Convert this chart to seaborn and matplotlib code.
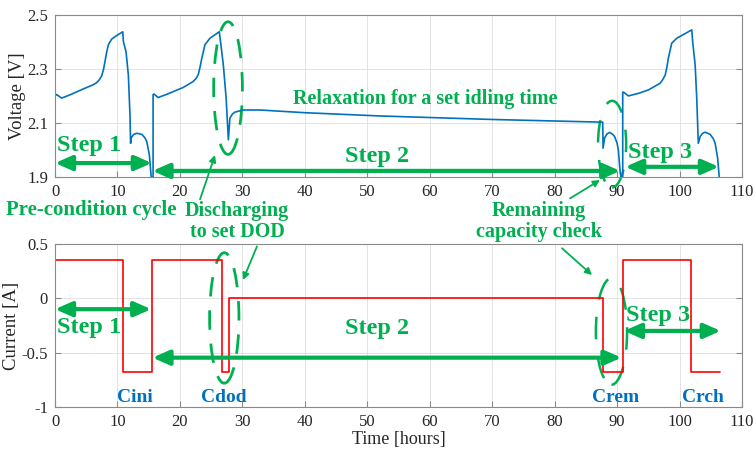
import matplotlib
matplotlib.use("Agg")
import matplotlib.pyplot as plt
from matplotlib.patches import Ellipse, FancyArrowPatch
import seaborn as sns
import pandas as pd

# ---------------- data ----------------
volt_time = [0, 0, 0.25, 1.07, 2.5, 4.54, 6.0, 6.67, 7.1, 7.47, 7.75, 8.0, 8.25, 8.54, 9.07,
             9.87, 10.84, 10.95, 11.37, 11.74, 12.0, 12.1, 12.2, 12.6, 13.1, 13.9, 14.4, 14.7,
             15.1, 15.4, 15.7,
             15.7, 15.85, 16.5, 18.0, 20.5, 22.1, 22.6, 22.95, 23.25, 23.5, 24.0, 24.8, 26.3,
             26.5, 26.95, 27.4, 27.75, 28.0, 28.4, 28.8, 30.1, 32.8, 40.0, 52.0, 70.0, 87.7,
             87.75, 88.0, 88.4, 88.8, 89.3, 89.6, 90.0, 90.2, 90.5, 90.65, 90.9,
             90.9, 91.1, 91.8, 93.5, 95.0, 96.9, 97.3, 97.7, 98.0, 98.2, 98.75, 99.55, 101.95,
             102.1, 102.5, 102.75, 103.0, 103.3, 103.7, 104.1, 104.9, 105.4, 105.7, 106.1,
             106.35]
volt_value = [1.90, 2.20, 2.205, 2.192, 2.205, 2.226, 2.24, 2.249, 2.26, 2.274, 2.297, 2.327,
              2.36, 2.389, 2.41, 2.423, 2.437, 2.40, 2.363, 2.277, 2.13, 2.025, 2.045, 2.058,
              2.062, 2.058, 2.045, 2.031, 1.982, 1.90, 1.90,
              2.205, 2.207, 2.194, 2.207, 2.231, 2.253, 2.265, 2.28, 2.31, 2.339, 2.389, 2.413,
              2.437, 2.40, 2.314, 2.191, 2.038, 2.118, 2.133, 2.14, 2.148, 2.148, 2.138, 2.126,
              2.113, 2.103,
              2.007, 2.045, 2.06, 2.065, 2.058, 2.05, 2.025, 2.0, 1.915, 1.90, 1.90,
              2.214, 2.213, 2.20, 2.21, 2.222, 2.247, 2.26, 2.277, 2.31, 2.339, 2.395, 2.413,
              2.444, 2.40, 2.314, 2.191, 2.025, 2.05, 2.062, 2.066, 2.058, 2.042, 2.025, 1.97,
              1.90]

cur_time = [0, 0, 10.95, 10.95, 15.6, 15.6, 26.7, 26.7, 27.8, 27.8, 87.7, 87.7, 90.9, 90.9,
            101.9, 101.9, 106.4]
cur_value = [-0.68, 0.35, 0.35, -0.68, -0.68, 0.35, 0.35, -0.68, -0.68, 0.0, 0.0, -0.68, -0.68,
             0.35, 0.35, -0.68, -0.68]

x_ticks = [0, 10, 20, 30, 40, 50, 60, 70, 80, 90, 100, 110]
v_ticks = [1.9, 2.1, 2.3, 2.5]
c_ticks = [-1, -0.5, 0, 0.5]
c_tick_labels = ["-1", "-0.5", "0", "0.5"]

labels_cap = ["Cini", "Cdod", "Crem", "Crch"]
labels_cap_t = [12.8, 27.1, 89.8, 103.8]

volt_df = pd.DataFrame({"t": volt_time, "v": volt_value})
cur_df = pd.DataFrame({"t": cur_time, "i": cur_value})

# ---------------- style ----------------
sns.set_style("whitegrid", {"grid.color": "#e3e3e3", "axes.edgecolor": "#8a8a8a",
                            "xtick.direction": "in", "ytick.direction": "in",
                            "xtick.bottom": True, "ytick.left": True})
plt.rcParams["font.family"] = ["Liberation Serif", "DejaVu Serif"]
plt.rcParams["xtick.major.size"] = 4
plt.rcParams["ytick.major.size"] = 4
plt.rcParams["xtick.color"] = "#8a8a8a"
plt.rcParams["ytick.color"] = "#8a8a8a"
plt.rcParams["xtick.labelcolor"] = "#262626"
plt.rcParams["ytick.labelcolor"] = "#262626"

GREEN = "#00B050"
BLUE_TXT = "#0070C0"
LINE_BLUE = "#0072BD"
RED = "#FF0000"

fig = plt.figure(figsize=(7.56, 4.53), dpi=100)
ax1 = fig.add_axes([0.0728, 0.609, 0.9087, 0.3585])
ax2 = fig.add_axes([0.0728, 0.1015, 0.9087, 0.36])

sns.lineplot(data=volt_df, x="t", y="v", sort=False, estimator=None, ax=ax1,
             color=LINE_BLUE, lw=1.2)
sns.lineplot(data=cur_df, x="t", y="i", sort=False, estimator=None, ax=ax2,
             color=RED, lw=1.2)

for ax in (ax1, ax2):
    ax.set_xlim(0, 110)
    ax.set_xticks(x_ticks)
    ax.tick_params(axis="both", labelsize=12, right=True, top=False)
    ax.tick_params(axis="x", pad=5)
    ax.tick_params(axis="y", pad=5)
    for s in ax.spines.values():
        s.set_linewidth(0.8)
        s.set_color("#8a8a8a")
    ax.grid(True, lw=0.7)

ax1.set_ylim(1.9, 2.5)
ax1.set_yticks(v_ticks)
ax1.set_yticklabels([f"{v:.1f}" for v in v_ticks])
ax1.set_xlabel("")
ax1.set_ylabel("Voltage [V]", fontsize=13.5, color="#262626", labelpad=1)

ax2.set_ylim(-1, 0.5)
ax2.set_yticks(c_ticks)
ax2.set_yticklabels(c_tick_labels)
ax2.set_xlabel("Time [hours]", fontsize=13, color="#262626", labelpad=1)
ax2.set_ylabel("Current [A]", fontsize=13.5, color="#262626", labelpad=1)

bold = dict(color=GREEN, fontweight="bold")
dbl = dict(arrowstyle="<|-|>,head_length=0.5,head_width=0.22", lw=3, color=GREEN,
           mutation_scale=20, shrinkA=0, shrinkB=0)

# ---- top annotations ----
ax1.text(0.3, 2.015, "Step 1", fontsize=17.5, ha="left", va="center", **bold)
ax1.annotate("", xy=(0, 1.952), xytext=(15.5, 1.952), arrowprops=dbl, annotation_clip=False)
ax1.text(51.5, 1.978, "Step 2", fontsize=17.5, ha="center", va="center", **bold)
ax1.annotate("", xy=(15.6, 1.923), xytext=(90.5, 1.923), arrowprops=dbl, annotation_clip=False)
ax1.text(96.9, 1.992, "Step 3", fontsize=17.5, ha="center", va="center", **bold)
ax1.annotate("", xy=(91.3, 1.938), xytext=(106.3, 1.938), arrowprops=dbl, annotation_clip=False)
ax1.text(59.2, 2.188, "Relaxation for a set idling time", fontsize=14.5,
         ha="center", va="center", **bold)
ax1.add_patch(Ellipse((27.7, 2.229), 4.6, 0.49, fill=False, ec=GREEN, lw=2,
                      ls=(0, (7, 5)), clip_on=False))
ax1.add_patch(Ellipse((89.2, 2.022), 4.5, 0.32, fill=False, ec=GREEN, lw=1.8,
                      ls=(0, (9, 7)), clip_on=False))

# ---- bottom annotations ----
ax2.text(0.3, -0.264, "Step 1", fontsize=17.5, ha="left", va="center", **bold)
ax2.annotate("", xy=(0, -0.1), xytext=(15.4, -0.1), arrowprops=dbl, annotation_clip=False)
ax2.text(51.5, -0.282, "Step 2", fontsize=17.5, ha="center", va="center", **bold)
ax2.annotate("", xy=(15.6, -0.546), xytext=(90.7, -0.546), arrowprops=dbl, annotation_clip=False)
ax2.text(96.6, -0.162, "Step 3", fontsize=17.5, ha="center", va="center", **bold)
ax2.annotate("", xy=(91.1, -0.30), xytext=(106.6, -0.30), arrowprops=dbl, annotation_clip=False)
ax2.add_patch(Ellipse((27.1, -0.181), 4.7, 1.2, fill=False, ec=GREEN, lw=2,
                      ls=(0, (7, 5)), clip_on=False))
ax2.add_patch(Ellipse((89.1, -0.305), 5.0, 0.98, fill=False, ec=GREEN, lw=1.8,
                      ls=(0, (9, 7)), clip_on=False))
for lab, t in zip(labels_cap, labels_cap_t):
    ax2.text(t, -0.908, lab, fontsize=14, color=BLUE_TXT, fontweight="bold",
             ha="center", va="center")

# ---- texts between panels ----
fig.text(0.1204, 0.5364, "Pre-condition cycle", fontsize=15, ha="center", va="center", **bold)
fig.text(0.3135, 0.5115, "Discharging\nto set DOD", fontsize=14.5, ha="center", va="center",
         linespacing=1.05, **bold)
fig.text(0.713, 0.5105, "Remaining\ncapacity check", fontsize=14.5, ha="center", va="center",
         linespacing=1.05, **bold)

thin = dict(arrowstyle="-|>", lw=1.3, color=GREEN, mutation_scale=10, shrinkA=0, shrinkB=0)
for (x0, y0), (x1, y1) in [((0.2646, 0.5600), (0.2844, 0.6578)),
                           ((0.3399, 0.4560), (0.3214, 0.3819)),
                           ((0.754, 0.5620), (0.7937, 0.6026)),
                           ((0.7434, 0.4520), (0.7831, 0.3929))]:
    fig.add_artist(FancyArrowPatch((x0, y0), (x1, y1), transform=fig.transFigure, **thin))

fig.savefig("out.png", dpi=100)
